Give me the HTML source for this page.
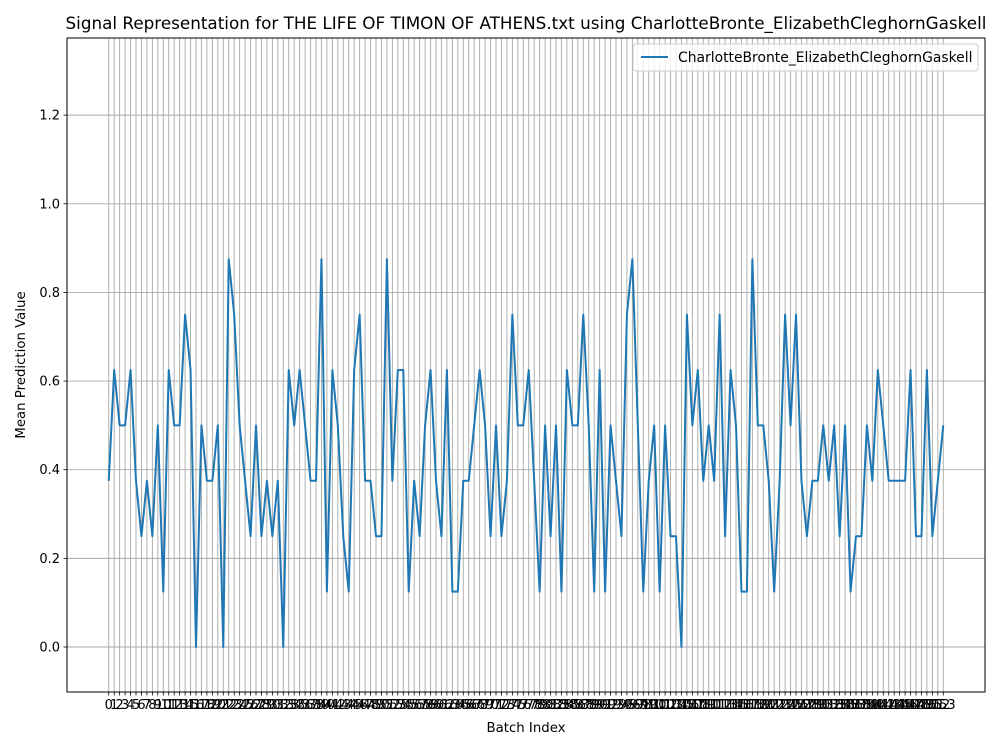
<!DOCTYPE html>
<html><head><meta charset="utf-8"><style>
body{margin:0;background:#fff;font-family:"Liberation Sans","DejaVu Sans",sans-serif}
svg text{font-family:"DejaVu Sans","Liberation Sans",sans-serif;fill:#000}
</style></head><body>
<svg id="chart" width="1000" height="750" viewBox="0 0 1000 750" xmlns="http://www.w3.org/2000/svg">
<rect width="1000" height="750" fill="#fff"/>
<text x="526" y="29" font-size="16.8" text-anchor="middle">Signal Representation for THE LIFE OF TIMON OF ATHENS.txt using CharlotteBronte_ElizabethCleghornGaskell</text>
<g id="grid"></g>
<g id="xticks"></g>
<g id="yticks"></g>
<path id="series" fill="none" stroke="#1f77b4" stroke-width="2" stroke-linejoin="round"/>
<rect x="67" y="38" width="918" height="654" fill="none" stroke="#000" stroke-width="1"/>
<text x="526" y="732" font-size="13.3" text-anchor="middle">Batch Index</text>
<text transform="translate(25,365) rotate(-90)" font-size="13.3" text-anchor="middle">Mean Prediction Value</text>
<g>
<rect x="633" y="44" width="345" height="27" rx="3" fill="#fff" fill-opacity="0.8" stroke="#ccc"/>
<line x1="641" y1="57" x2="668" y2="57" stroke="#1f77b4" stroke-width="2"/>
<text x="678" y="62" font-size="13.9">CharlotteBronte_ElizabethCleghornGaskell</text>
</g>
</svg>
<script>
const values=[.375,.625,.5,.5,.625,.375,.25,.375,.25,.5,.125,.625,.5,.5,.75,.625,0,.5,.375,.375,.5,0,.875,.75,.5,.375,.25,.5,.25,.375,.25,.375,0,
.625,.5,.625,.5,.375,.375,.875,.125,.625,.5,.25,.125,.625,.75,.375,.375,.25,.25,.875,.375,.625,.625,.125,.375,.25,.5,.625,.375,.25,.625,
.125,.125,.375,.375,.5,.625,.5,.25,.5,.25,.375,.75,.5,.5,.625,.375,.125,.5,.25,.5,.125,.625,.5,.5,.75,.5,.125,.625,.125,.5,
.375,.25,.75,.875,.5,.125,.375,.5,.125,.5,.25,.25,0,.75,.5,.625,.375,.5,.375,.75,.25,.625,.5,.125,.125,.875,.5,.5,.375,.125,.375,.75,.5,
.75,.375,.25,.375,.375,.5,.375,.5,.25,.5,.125,.25,.25,.5,.375,.625,.5,.375,.375,.375,.375,.625,.25,.25,.625,.25,.375,.5];
const yTicks=[0,0.2,0.4,0.6,0.8,1.0,1.2];
const yTickLabels=["0.0","0.2","0.4","0.6","0.8","1.0","1.2"];
const NS="http://www.w3.org/2000/svg";
const L=67,R=985,T=38,B=692;
const n=values.length, xm=(n-1)*0.05;
const x=i=>L+(i+xm)/((n-1)+2*xm)*(R-L);
const y=v=>B-(v+0.1015)/(1.374+0.1015)*(B-T);
const grid=document.getElementById('grid'),xt=document.getElementById('xticks'),yt=document.getElementById('yticks');
function mk(tag,attrs,parent){const e=document.createElementNS(NS,tag);for(const k in attrs)e.setAttribute(k,attrs[k]);parent.appendChild(e);return e;}
for(let i=0;i<n;i++){
  const g=mk('line',{x1:x(i),x2:x(i),y1:T,y2:B,stroke:'#a8a8a8','stroke-width':0.9},grid);
  
  
  mk('line',{x1:x(i),x2:x(i),y1:B,y2:B+3.5,stroke:'#000','stroke-width':0.8},xt);
  const t=mk('text',{x:x(i),y:B+17,'font-size':13,'text-anchor':'middle'},xt);
  t.textContent=String(i);
  
  
}
yTicks.forEach((v,k)=>{
  const g=mk('line',{x1:L,x2:R,y1:y(v),y2:y(v),stroke:'#a8a8a8','stroke-width':0.9},grid);
  
  
  mk('line',{x1:L-3.5,x2:L,y1:y(v),y2:y(v),stroke:'#000','stroke-width':0.8},yt);
  const t=mk('text',{x:L-7,y:y(v)+4.5,'font-size':13,'text-anchor':'end'},yt);
  t.textContent=yTickLabels[k];
  
  
});
document.getElementById('series').setAttribute('d',values.map((v,i)=>(i?'L':'M')+x(i).toFixed(2)+','+y(v).toFixed(2)).join(''));
</script>
</body></html>
